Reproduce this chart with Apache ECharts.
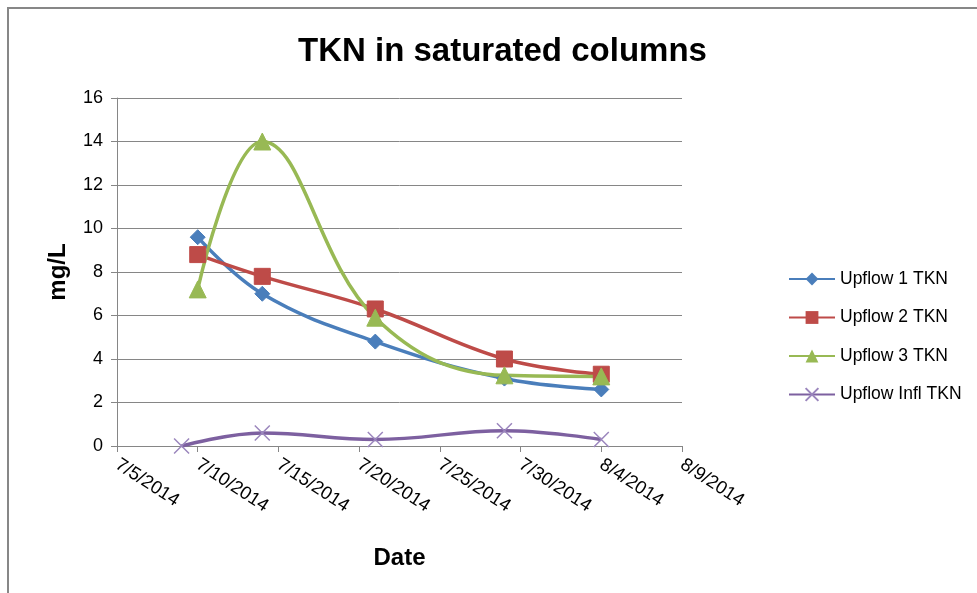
<!DOCTYPE html>
<html>
<head>
<meta charset="utf-8">
<script src="https://cdn.jsdelivr.net/npm/echarts@6/dist/echarts.min.js"></script>
<style>
  html, body { margin: 0; padding: 0; background: #fff; }
  #chart { width: 977px; height: 593px; }
</style>
</head>
<body>
<div id="chart"></div>
<script>
// sample dates and TKN values (mg/L)
const columnDates = ['2014-07-10', '2014-07-14', '2014-07-21', '2014-07-29', '2014-08-04'];
const inflDates = ['2014-07-09', '2014-07-14', '2014-07-21', '2014-07-29', '2014-08-04'];
const upflow1 = [9.6, 7.0, 4.8, 3.1, 2.6];
const upflow2 = [8.8, 7.8, 6.3, 4.0, 3.3];
const upflow3 = [7.2, 14.0, 5.9, 3.25, 3.2];
const upflowInfl = [0.0, 0.6, 0.3, 0.7, 0.3];

const axisStart = '2014-07-05';
const axisEnd = '2014-08-09';

const DAY = 86400000;
const t0 = Date.parse(axisStart + 'T00:00:00Z');
const dayOf = d => Math.round((Date.parse(d + 'T00:00:00Z') - t0) / DAY);
const fmtDate = v => {
    const d = new Date(t0 + v * DAY);
    return (d.getUTCMonth() + 1) + '/' + d.getUTCDate() + '/' + d.getUTCFullYear();
};
const pairs = (dates, vals) => dates.map((d, i) => [dayOf(d), vals[i]]);

const FONT = 'Liberation Sans';
const xSymbol = 'path://M0,0 L10,10 M10,0 L0,10';

const chart = echarts.init(document.getElementById('chart'));

const mkSeries = (name, data, color, symbol, size) => ({
    name: name,
    type: 'line',
    data: data,
    smooth: 0.4,
    symbol: symbol,
    symbolSize: size,
    lineStyle: { color: color, width: 3.5 },
    itemStyle: { color: color, borderColor: color },
    z: 3
});

chart.setOption({
    animation: false,
    textStyle: { fontFamily: FONT },
    graphic: [
        {
            type: 'rect',
            shape: { x: 8, y: 8, width: 1000, height: 600 },
            style: { fill: 'none', stroke: '#878787', lineWidth: 2 },
            silent: true
        }
    ],
    title: {
        text: 'TKN in saturated columns',
        left: 293,
        top: 30,
        textStyle: { fontSize: 33, fontWeight: 'bold', color: '#000', fontFamily: FONT }
    },
    legend: {
        orient: 'vertical',
        left: 783,
        top: 265,
        itemGap: 20.5,
        itemWidth: 46,
        itemHeight: 16,
        textStyle: { fontSize: 17.5, color: '#000', fontFamily: FONT },
        data: ['Upflow 1 TKN', 'Upflow 2 TKN', 'Upflow 3 TKN', 'Upflow Infl TKN']
    },
    grid: { left: 117, right: 295, top: 98, bottom: 147 },
    xAxis: {
        type: 'value',
        min: 0,
        max: dayOf(axisEnd),
        interval: 5,
        name: 'Date',
        nameLocation: 'middle',
        nameGap: 100,
        nameTextStyle: { fontSize: 24, fontWeight: 'bold', color: '#000', fontFamily: FONT },
        axisLine: { show: true, lineStyle: { color: '#868686', width: 1 } },
        axisTick: { show: true, length: 6, lineStyle: { color: '#868686' } },
        splitLine: { show: false },
        axisLabel: {
            rotate: -33,
            fontSize: 18.5,
            color: '#000',
            margin: 17,
            formatter: v => fmtDate(v)
        }
    },
    yAxis: {
        type: 'value',
        min: 0,
        max: 16,
        interval: 2,
        name: 'mg/L',
        nameLocation: 'middle',
        nameGap: 47,
        nameTextStyle: { fontSize: 24, fontWeight: 'bold', color: '#000', fontFamily: FONT },
        axisLine: { show: true, lineStyle: { color: '#868686', width: 1 } },
        axisTick: { show: true, length: 6, lineStyle: { color: '#868686' } },
        splitLine: { show: true, lineStyle: { color: '#868686', width: 1 } },
        axisLabel: { fontSize: 18, color: '#000', margin: 14 }
    },
    series: [
        mkSeries('Upflow 1 TKN', pairs(columnDates, upflow1), '#4a7ebb', 'diamond', 15),
        mkSeries('Upflow 2 TKN', pairs(columnDates, upflow2), '#be4b48', 'rect', 16),
        mkSeries('Upflow 3 TKN', pairs(columnDates, upflow3), '#98b954', 'triangle', 17),
        Object.assign(mkSeries('Upflow Infl TKN', pairs(inflDates, upflowInfl), '#7d60a0', xSymbol, 15), {
            itemStyle: { color: 'none', borderColor: '#9b86bd', borderWidth: 1.5 }
        })
    ]
});
</script>
</body>
</html>
